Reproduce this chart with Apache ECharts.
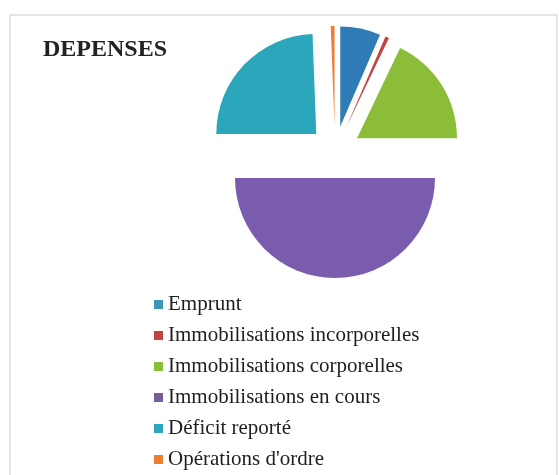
<!DOCTYPE html>
<html><head><meta charset="utf-8">
<style>html,body{margin:0;padding:0;background:#fff}#c{width:559px;height:475px}</style>
<script src="https://cdn.jsdelivr.net/npm/echarts@6/dist/echarts.min.js"></script>
</head><body><div id="c"></div>
<script>
const categories = ["Emprunt","Immobilisations incorporelles","Immobilisations corporelles","Immobilisations en cours","Déficit reporté","Opérations d'ordre"];
const values = [6.5, 0.6, 17.9, 50, 24.4, 0.6];
const sliceColors = ["#2f7bb6","#c2433f","#8cbd38","#7a5cae","#2ba6ba","#ef7d31"];
const legendColors = ["#3a97b6","#c2433f","#8cbd38","#7a5c9a","#2ba6ba","#ef7d31"];

const chart = echarts.init(document.getElementById('c'), null, {renderer:'canvas'});
chart.setOption({
  backgroundColor:'#fff',
  animation:false,
  title:{text:'DEPENSES', left:38, top:33,
    textStyle:{fontFamily:'Liberation Serif', fontWeight:'bold', fontSize:24, color:'#222'}},
  graphic:[{type:'rect', shape:{x:10,y:15,width:547,height:470}, style:{fill:'none', stroke:'#dcdcdc', lineWidth:1.5}, silent:true}],
  legend:{orient:'vertical', left:149, top:289, height:200, itemWidth:9, itemHeight:9, itemGap:10, icon:'rect',
    selectedMode:false,
    textStyle:{fontFamily:'Liberation Serif', fontSize:21, lineHeight:21, color:'#1e1e1e'},
    data:categories.map((n,i)=>({name:n, itemStyle:{color:legendColors[i]}}))},
  series:[{type:'pie', center:[335,152], radius:[0,100], startAngle:90, clockwise:true,
    selectedMode:'multiple', selectedOffset:26, label:{show:false}, labelLine:{show:false},
    itemStyle:{borderWidth:0}, emphasis:{disabled:true},
    data:categories.map((n,i)=>({name:n, value:values[i], selected:true, itemStyle:{color:sliceColors[i]}}))}]
});
</script></body></html>
